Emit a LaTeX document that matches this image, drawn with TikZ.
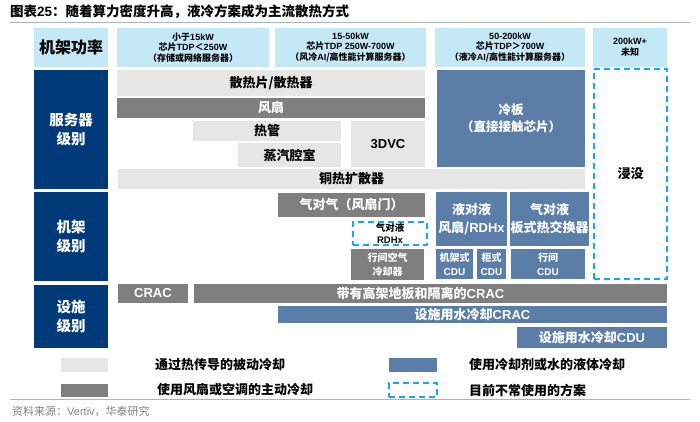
\documentclass[tikz,border=0pt]{standalone}
\usepackage{fontspec}
\setmainfont{Noto Sans CJK SC}
\newfontfamily\lat{Liberation Sans}
\newcommand\E[1]{{\lat\bfseries #1}}
\newcommand\fs[2]{\fontsize{#1}{#2}\selectfont\bfseries}
\definecolor{hdr}{HTML}{C5E8F7}
\definecolor{navy}{HTML}{003A78}
\definecolor{lgr}{HTML}{E6E6E6}
\definecolor{dgr}{HTML}{7F7F7F}
\definecolor{stb}{HTML}{5B7EA8}
\definecolor{cya}{HTML}{14A9E8}
\definecolor{rulec}{HTML}{A6B4C9}
\definecolor{srcc}{HTML}{808080}
\newcommand\mybox[7]{\node[#1, minimum width={(#5-#3)*1pt}, minimum height={(#6-#4)*1pt}] (#2) at ({(#3+#5)/2},{(#4+#6)/2}) {#7};}
\tikzset{
  base/.style={inner sep=0pt, outer sep=0pt, align=center},
  hd/.style={base, fill=hdr, text=black, font=\fs{9}{10.8}},
  nv/.style={base, fill=navy, text=white, font=\fs{14.5}{19}},
  lg/.style={base, fill=lgr, text=black, font=\fs{13}{15}},
  dg/.style={base, fill=dgr, text=white, font=\fs{13}{15}},
  sb/.style={base, fill=stb, text=white, font=\fs{12.5}{17}},
  ds/.style={base, draw=cya, line width=1.8pt, dash pattern=on 6pt off 4pt, text=black, font=\fs{13}{15}},
  small/.style={font=\fs{10}{14}},
  legtext/.style={anchor=west, inner sep=0pt, font=\fs{13}{15}, text=black},
}
\begin{document}
\begin{tikzpicture}[x=1pt, y=-1pt]
\useasboundingbox (0,0) rectangle (700,421);
% title
\node[anchor=west, inner sep=0pt, font=\fs{13.5}{15}] (title) at (10,12) {图表\E{25}：随着算力密度升高，液冷方案成为主流散热方式};
\coordinate (tl1) at (10,22.5); \coordinate (tl2) at (690,22.5);
\draw[rulec, line width=1.6pt] (tl1) -- (tl2);
% header row
\mybox{hd, font=\fs{16}{18}}{h0}{34}{28}{108}{67}{机架功率}
\mybox{hd}{h1}{117}{28}{269}{67}{小于\E{15kW}\\芯片\E{TDP}＜\E{250W}\\（存储或网络服务器）}
\mybox{hd}{h2}{275}{28}{426}{67}{\E{15-50kW}\\芯片\E{TDP 250W-700W}\\（风冷\E{AI}/高性能计算服务器）}
\mybox{hd}{h3}{435}{28}{585}{67}{\E{50-200kW}\\芯片\E{TDP}＞\E{700W}\\（液冷\E{AI}/高性能计算服务器）}
\mybox{hd}{h4}{593}{28}{667}{67}{\E{200kW+}\\未知}
% server level
\mybox{nv}{s0}{34}{70}{108}{189}{服务器\\级别}
\mybox{lg}{a1}{117}{70}{425}{96}{散热片/散热器}
\mybox{dg}{a2}{117}{98}{425}{118}{风扇}
\mybox{lg}{a3}{193}{121}{341}{141}{热管}
\mybox{lg}{a4}{238}{143}{341}{167}{蒸汽腔室}
\mybox{lg, font=\fs{13}{15}}{a5}{351}{121}{425}{167}{\E{3DVC}}
\mybox{lg}{a6}{118}{169}{585}{189}{铜热扩散器}
\mybox{sb}{a7}{437}{70}{585}{167}{冷板\\（直接接触芯片）}
\mybox{ds}{a8}{594}{69}{667}{279}{\raisebox{-2pt}{浸没}}
% rack level
\mybox{nv}{r0}{34}{192}{108}{281}{机架\\级别}
\mybox{dg}{r1}{278}{193}{425}{217}{气对气（风扇门）}
\mybox{ds, font=\fs{9.5}{12}}{r2}{353}{222}{427}{245}{气对液\\\E{RDHx}}
\mybox{dg, small}{r3}{351}{249}{424}{280}{行间空气\\冷却器}
\mybox{sb, font=\fs{13}{18}}{r4}{436}{192}{507}{246}{液对液\\风扇/\E{RDHx}}
\mybox{sb, font=\fs{13}{18}}{r5}{510}{192}{589}{246}{气对液\\板式热交换器}
\mybox{sb, small}{r6}{436}{249}{473}{279}{机架式\\\E{CDU}}
\mybox{sb, small}{r7}{477}{249}{506}{279}{柜式\\\E{CDU}}
\mybox{sb, small}{r8}{511}{249}{585}{279}{行间\\\E{CDU}}
% facility level
\mybox{nv}{f0}{34}{285}{108}{348}{设施\\级别}
\mybox{dg, font=\fs{13}{15}}{f1}{118}{284}{188}{303}{\E{CRAC}}
\mybox{dg}{f2}{194}{284}{667}{303}{带有高架地板和隔离的\E{CRAC}\kern20pt}
\mybox{sb, font=\fs{13}{15}}{f3}{278}{306}{667}{323}{设施用水冷却\E{CRAC}}
\mybox{sb, font=\fs{13}{15}}{f4}{517}{327}{667}{348}{设施用水冷却\E{CDU}}
% legend
\mybox{lg}{l1}{61}{358}{108}{372}{}
\mybox{dg}{l2}{61}{384}{108}{397}{}
\mybox{sb}{l3}{389}{358}{437}{372}{}
\mybox{ds}{l4}{389}{383}{437}{397}{}
\node[legtext] (t1) at (155,365) {通过热传导的被动冷却};
\node[legtext] (t2) at (157,390) {使用风扇或空调的主动冷却};
\node[legtext] (t3) at (469,365) {使用冷却剂或水的液体冷却};
\node[legtext] (t4) at (469,390) {目前不常使用的方案};
% bottom rule and source
\coordinate (bl1) at (10,399.5); \coordinate (bl2) at (690,399.5);
\draw[rulec, line width=1pt] (bl1) -- (bl2);
\node[anchor=west, inner sep=0pt, text=srcc, font=\fontsize{11}{13}\selectfont] (src) at (12,411) {资料来源：{\lat Vertiv}，华泰研究};
\end{tikzpicture}
\end{document}
